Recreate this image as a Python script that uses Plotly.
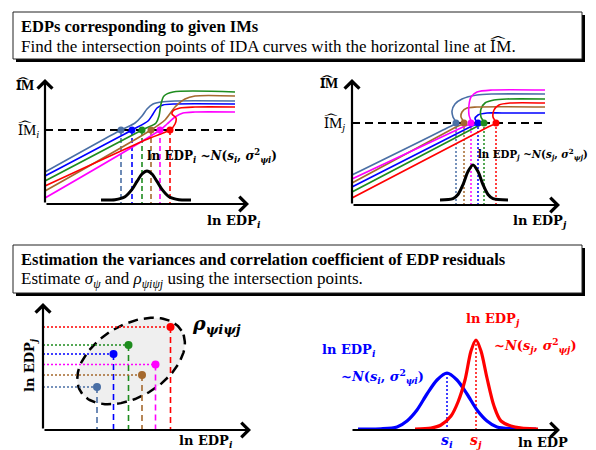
import numpy as np
import plotly.graph_objects as go

W, H = 596, 450

# ---------------- data (arbitrary schematic units) ----------------
colors = ["#4a6fa5", "#0000ff", "#1e8c1e", "#a5692e", "#ff00ff", "#ff0000"]  # steelblue, blue, green, brown, magenta, red

# intersection levels and EDP values at the intersections
im_i_level = 74
im_j_level = 82
edp_i = [76, 87, 97, 106, 115, 125]
edp_j = [104, 126, 132, 112, 119, 144]

# IDA curves for EDP_i (x = ln EDP_i, y = IM)
ida_i_x = [
    [0, 76, 90, 97, 102, 108, 116, 130, 190],
    [0, 87, 103, 108, 112, 118, 130, 190],
    [0, 97, 111, 114, 116, 119, 128, 190],
    [0, 106, 120, 130, 140, 150, 190],
    [0, 115, 122, 130, 138, 150, 190],
    [0, 105, 118, 125, 130, 131, 127, 128, 135, 150, 190],
]
ida_i_y = [
    [32, 74, 81, 88, 95, 100, 102, 103, 103],
    [28, 74, 83, 90, 96, 99, 100, 100],
    [23, 74, 81, 88, 100, 108, 112, 112],
    [13, 74, 84, 97, 105, 108, 108],
    [6, 74, 80, 87, 91, 92, 92],
    [18, 66, 71, 74, 80, 86, 90, 93, 96, 97, 97],
]
# IDA curves for EDP_j
ida_j_x = [
    [0, 95, 104, 101, 100, 103, 110, 125, 140, 193],
    [0, 118, 126, 123, 126, 135, 150, 193],
    [0, 124, 132, 129, 129, 133, 142, 155, 193],
    [0, 104, 112, 109, 110, 115, 125, 193],
    [0, 111, 119, 117, 117, 119, 125, 140, 193],
    [0, 136, 144, 141, 142, 147, 158, 193],
]
ida_j_y = [
    [30, 77, 82, 88, 94, 101, 106, 110, 111, 111],
    [18, 78, 82, 86, 90, 92, 92, 92],
    [13, 78, 82, 88, 96, 102, 105, 106, 106],
    [22, 78, 82, 88, 93, 97, 98, 98],
    [26, 78, 82, 90, 100, 108, 113, 115, 115],
    [7, 78, 82, 88, 95, 100, 102, 102],
]
# bell curves drawn under the intersections
bell_i_x = [56, 70, 80, 87, 92, 97, 102, 107, 112, 117, 124, 134, 146]
bell_i_y = [4, 4.3, 7.3, 14.6, 22.6, 30, 33, 30, 22.6, 14.6, 7.3, 4.3, 4]
bell_j_x = [88, 101, 106, 111, 116, 121, 126, 131, 136, 141, 156]
bell_j_y = [5, 6.3, 10.5, 20.4, 33.5, 40, 33.5, 20.4, 10.5, 6.3, 5]

# distributions of ln EDP_i and ln EDP_j (bottom-right)
dist_i_x = [7, 30, 46, 56, 66, 76, 86, 96, 106, 116, 126, 136, 146, 165, 185]
dist_i_y = [1, 1.2, 3, 9, 20, 36, 50, 57, 50, 36, 20, 9, 3, 1.2, 1]
dist_j_x = [64, 80, 90, 100, 107, 114, 120, 125, 130, 136, 143, 150, 164, 187]
dist_j_y = [1, 2, 5, 14, 28, 50, 79, 90, 79, 52, 24, 9, 3, 1]
s_i, s_i_peak = 96, 57
s_j, s_j_peak = 125, 90

# correlation ellipse (in scatter units): centre, semi-axes, angle (deg)
ell_cx, ell_cy, ell_a, ell_b, ell_ang = 98.7, 121.3, 39.3, 24.0, 31

SERIF = "Liberation Serif"
MATH = "DejaVu Serif"

fig = go.Figure()

def P(x, y):
    return x / W, 1 - y / H

# axes layout
axes = {
    "1": dict(xd=(37, 241), xr=(0, 204), yd=(196, 71), yr=(0, 125)),
    "2": dict(xd=(344, 552), xr=(0, 208), yd=(197, 71), yr=(0, 126)),
    "3": dict(xd=(35, 243), xr=(40, 178.67), yd=(422, 295), yr=(75.33, 160)),
    "4": dict(xd=(343, 552), xr=(0, 209), yd=(422, 300), yr=(0, 122)),
}
lay = {}
for k, a in axes.items():
    xs = "xaxis" if k == "1" else "xaxis" + k
    ys = "yaxis" if k == "1" else "yaxis" + k
    lay[xs] = dict(domain=[a["xd"][0] / W, a["xd"][1] / W], range=list(a["xr"]), visible=False,
                   anchor="y" if k == "1" else "y" + k, fixedrange=True)
    lay[ys] = dict(domain=[1 - a["yd"][0] / H, 1 - a["yd"][1] / H], range=list(a["yr"]), visible=False,
                   anchor="x" if k == "1" else "x" + k, fixedrange=True)

def xy(k):
    return ("x", "y") if k == "1" else ("x" + k, "y" + k)

def line(k, x, y, color, width=2, dash=None, shape="linear", mode="lines", **kw):
    xa, ya = xy(k)
    fig.add_trace(go.Scatter(x=x, y=y, xaxis=xa, yaxis=ya, mode=mode,
                             line=dict(color=color, width=width, dash=dash, shape=shape, smoothing=0.8),
                             hoverinfo="skip", showlegend=False, **kw))

# ---------- panel 1 ----------
for c, xv in zip(colors, edp_i):
    line("1", [xv, xv], [im_i_level, 0], c, width=1.6, dash="5px,3px")
for c, xs_, ys_ in zip(colors, ida_i_x, ida_i_y):
    line("1", xs_, ys_, c, width=1.6, shape="spline")
line("1", [0, 190], [im_i_level, im_i_level], "black", width=2, dash="8px,5px")
line("1", bell_i_x, bell_i_y, "black", width=3, shape="spline")
fig.add_trace(go.Scatter(x=edp_i, y=[im_i_level] * 6, xaxis="x", yaxis="y", mode="markers",
                         marker=dict(color=colors, size=7), hoverinfo="skip", showlegend=False))

# ---------- panel 2 ----------
for c, xv in zip(colors, edp_j):
    line("2", [xv, xv], [im_j_level, 0], c, width=1.5, dash="2px,2px")
for c, xs_, ys_ in zip(colors, ida_j_x, ida_j_y):
    line("2", xs_, ys_, c, width=1.6, shape="spline")
line("2", [0, 193], [im_j_level, im_j_level], "black", width=2, dash="8px,5px")
line("2", bell_j_x, bell_j_y, "black", width=3, shape="spline")
fig.add_trace(go.Scatter(x=edp_j, y=[im_j_level] * 6, xaxis="x2", yaxis="y2", mode="markers",
                         marker=dict(color=colors, size=7), hoverinfo="skip", showlegend=False))

# ---------- panel 3 ----------
t = np.linspace(0, 2 * np.pi, 120)
th = np.deg2rad(ell_ang)
ex = ell_cx + ell_a * np.cos(t) * np.cos(th) - ell_b * np.sin(t) * np.sin(th)
ey = ell_cy + ell_a * np.cos(t) * np.sin(th) + ell_b * np.sin(t) * np.cos(th)
fig.add_trace(go.Scatter(x=ex, y=ey, xaxis="x3", yaxis="y3", mode="lines", fill="toself",
                         fillcolor="rgba(225,225,225,0.55)",
                         line=dict(color="black", width=2.5, dash="10px,6px"),
                         hoverinfo="skip", showlegend=False))
x3min, y3min = axes["3"]["xr"][0], axes["3"]["yr"][0]
for c, xv, yv in zip(colors, edp_i, edp_j):
    line("3", [x3min, xv], [yv, yv], c, width=1.5, dash="2px,2px")
    line("3", [xv, xv], [yv, y3min], c, width=1.6, dash="6px,4px")
fig.add_trace(go.Scatter(x=edp_i, y=edp_j, xaxis="x3", yaxis="y3", mode="markers",
                         marker=dict(color=colors, size=8), hoverinfo="skip", showlegend=False))

# ---------- panel 4 ----------
line("4", [s_i, s_i], [s_i_peak, 0], "#0000ff", width=1.5, dash="2px,2px")
line("4", [s_j, s_j], [s_j_peak, 0], "#ff0000", width=1.5, dash="2px,2px")
line("4", dist_i_x, dist_i_y, "#0000ff", width=3.2, shape="spline")
line("4", dist_j_x, dist_j_y, "#ff0000", width=3.2, shape="spline")

# ---------- axes arrows ----------
anns = []
def arrow(k, x0, y0, x1, y1):
    xa, ya = xy(k)
    anns.append(dict(x=x1, y=y1, ax=x0, ay=y0, xref=xa, yref=ya, axref=xa, ayref=ya,
                     showarrow=True, arrowhead=4, arrowsize=1.3, arrowwidth=2.2,
                     arrowcolor="black", text="", standoff=0, startstandoff=0))
arrow("1", 0, 0, 0, 125); arrow("1", 0, 0, 204, 0)
arrow("2", 0, 0, 0, 126); arrow("2", 0, 0, 208, 0)
arrow("3", 40, 75.33, 40, 160); arrow("3", 40, 75.33, 178.67, 75.33)
arrow("4", 0, 0, 209, 0)

def txt(x, y, text, size=13, color="black", xanchor="center", family=SERIF, angle=0):
    xx, yy = P(x, y)
    anns.append(dict(x=xx, y=yy, xref="paper", yref="paper", text=text, showarrow=False,
                     font=dict(size=size, color=color, family=family), xanchor=xanchor,
                     yanchor="middle", textangle=angle))

HAT = "I\u1DCDM"
# boxes text
txt(11, 18, "<b>EDPs corresponding to given IMs</b>", 16.5, xanchor="left")
txt(11, 38, "Find the intersection points of IDA curves with the horizontal line at " + HAT + ".", 17, xanchor="left")
txt(11, 251, "<b>Estimation the variances and correlation coefficient of EDP residuals</b>", 16.5, xanchor="left")
txt(11, 272, "Estimate <i>σ<sub>ψ</sub></i> and <i>ρ<sub>ψiψj</sub></i> using the intersection points.", 17, xanchor="left")

# panel 1 text
txt(17, 77, "<b>" + HAT + "</b>", 14)
txt(20, 122, HAT + "<sub><i>i</i></sub>", 15)
txt(137, 148, "<b>ln EDP<sub><i>i</i></sub> ~<i>N</i>(<i>s<sub>i</sub></i>, <i>σ</i><sup>2</sup><sub><i>ψi</i></sub>)</b>", 12, xanchor="left", family=MATH)
txt(226, 213, "<b>ln EDP<sub><i>i</i></sub></b>", 13, family=MATH)
# panel 2 text
txt(321, 75, "<b>" + HAT + "</b>", 14)
txt(326, 115, HAT + "<sub><i>j</i></sub>", 15)
txt(468, 146, "<b>ln EDP<sub><i>j</i></sub> ~<i>N</i>(<i>s<sub>j</sub></i>, <i>σ</i><sup>2</sup><sub><i>ψj</i></sub>)</b>", 10.2, xanchor="left", family=MATH)
txt(532, 213, "<b>ln EDP<sub><i>j</i></sub></b>", 13, family=MATH)
# panel 3 text
txt(22, 357, "<b>ln EDP<sub><i>j</i></sub></b>", 13, family=MATH, angle=-90)
txt(198, 433, "<b>ln EDP<sub><i>i</i></sub></b>", 13, family=MATH)
txt(208, 316, "<b><i>ρ<sub>ψiψj</sub></i></b>", 19, family=MATH)
# panel 4 text
txt(341, 342, "<b>ln EDP<sub><i>i</i></sub></b>", 13, color="#0000ff", family=MATH)
txt(374, 368, "<b>~<i>N</i>(<i>s<sub>i</sub></i>, <i>σ</i><sup>2</sup><sub><i>ψi</i></sub>)</b>", 13, color="#0000ff", family=MATH)
txt(485, 311, "<b>ln EDP<sub><i>j</i></sub></b>", 13, color="#ff0000", family=MATH)
txt(527, 337, "<b>~<i>N</i>(<i>s<sub>j</sub></i>, <i>σ</i><sup>2</sup><sub><i>ψj</i></sub>)</b>", 13, color="#ff0000", family=MATH)
txt(439, 433, "<b><i>s<sub>i</sub></i></b>", 14, color="#0000ff", family=MATH)
txt(468, 433, "<b><i>s<sub>j</sub></i></b>", 14, color="#ff0000", family=MATH)
txt(535, 434, "<b>ln EDP</b>", 13, family=MATH)

# ---------- boxes ----------
shapes = []
def box(x0, y0, x1, y1):
    a0, b0 = P(x0 + 3, y0 + 3); a1, b1 = P(x1 + 3, y1 + 3)
    shapes.append(dict(type="rect", xref="paper", yref="paper", x0=a0, y0=b0, x1=a1, y1=b1,
                       fillcolor="black", line=dict(width=0), layer="below"))
    a0, b0 = P(x0, y0); a1, b1 = P(x1, y1)
    shapes.append(dict(type="rect", xref="paper", yref="paper", x0=a0, y0=b0, x1=a1, y1=b1,
                       fillcolor="white", line=dict(color="#222", width=1), layer="below"))
box(5, 4, 574, 51)
box(5, 237, 574, 285)

fig.update_layout(width=W, height=H, margin=dict(l=0, r=0, t=0, b=0),
                  paper_bgcolor="white", plot_bgcolor="rgba(0,0,0,0)",
                  annotations=anns, shapes=shapes, **lay)
fig.write_html("out.html")
